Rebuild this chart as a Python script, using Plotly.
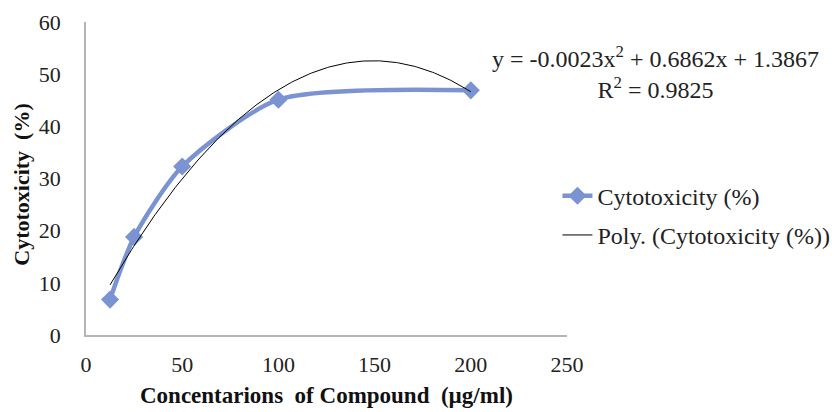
import numpy as np
import plotly.graph_objects as go

# Data
concentrations = [12.5, 25, 50, 100, 200]
cytotoxicity = [6.8, 18.8, 32.3, 45.1, 46.9]
poly_coeffs = [-0.0023, 0.6862, 1.3867]  # from displayed trendline equation
r_squared = 0.9825
x_ticks = [0, 50, 100, 150, 200, 250]
y_ticks = [0, 10, 20, 30, 40, 50, 60]

FONT = "Liberation Serif"
BLUE = "#7c93d1"
TXT = "#222222"

trend_x = np.linspace(min(concentrations), max(concentrations), 200)
trend_y = np.polyval(poly_coeffs, trend_x)

fig = go.Figure()
fig.add_trace(go.Scatter(
    x=concentrations, y=cytotoxicity, mode="lines+markers",
    name="Cytotoxicity (%)", legendgroup="a",
    line=dict(color=BLUE, width=4.5, shape="spline", smoothing=0.7),
    marker=dict(symbol="diamond", size=14, color=BLUE),
))
fig.add_trace(go.Scatter(
    x=trend_x, y=trend_y, mode="lines",
    name="Poly. (Cytotoxicity (%))", legendgroup="b",
    line=dict(color="black", width=1),
))

eq = "y = {:.4f}x<sup>2</sup> + {:.4f}x + {:.4f}<br>R<sup>2</sup> = {:.4f}".format(
    poly_coeffs[0], poly_coeffs[1], poly_coeffs[2], r_squared)
fig.add_annotation(
    text=eq, xref="paper", yref="paper", x=1.183, y=0.838,
    xanchor="center", yanchor="middle", showarrow=False, align="center",
    font=dict(family=FONT, size=24, color=TXT),
)
# axis titles
fig.add_annotation(
    text="<b>Concentarions\u00a0 of Compound\u00a0 (µg/ml)</b>",
    xref="paper", yref="paper", x=0.5, y=0, yshift=-60,
    xanchor="center", yanchor="middle", showarrow=False,
    font=dict(family=FONT, size=23, color="#111"),
)
fig.add_annotation(
    text="<b>Cytotoxicity\u00a0 (%)</b>",
    xref="paper", yref="paper", x=0, y=0.48, xshift=-64,
    xanchor="center", yanchor="middle", showarrow=False, textangle=-90,
    font=dict(family=FONT, size=22, color="#111"),
)

fig.update_layout(
    width=830, height=404,
    margin=dict(l=78, r=271, t=14, b=77, autoexpand=False),
    paper_bgcolor="white", plot_bgcolor="white",
    font=dict(family=FONT, size=22, color=TXT),
    legend=dict(
        xref="container", yref="container",
        x=0.662, y=0.59, xanchor="left", yanchor="top",
        font=dict(family=FONT, size=24, color=TXT),
        traceorder="grouped", tracegroupgap=5,
        bgcolor="rgba(0,0,0,0)",
    ),
    showlegend=True,
)
fig.update_xaxes(
    range=[0, 250], tickvals=x_ticks, showgrid=False, zeroline=False,
    showline=True, linecolor="#b4b4b4", linewidth=1.5, ticks="",
    ticklabelstandoff=9, automargin=False,
    tickfont=dict(family=FONT, size=22, color=TXT),
)
fig.update_yaxes(
    range=[0, 60], tickvals=y_ticks, showgrid=False, zeroline=False,
    showline=True, linecolor="#b4b4b4", linewidth=1.5, ticks="",
    ticklabelstandoff=19, automargin=False,
    tickfont=dict(family=FONT, size=22, color=TXT),
)

fig.write_html("out.html")
